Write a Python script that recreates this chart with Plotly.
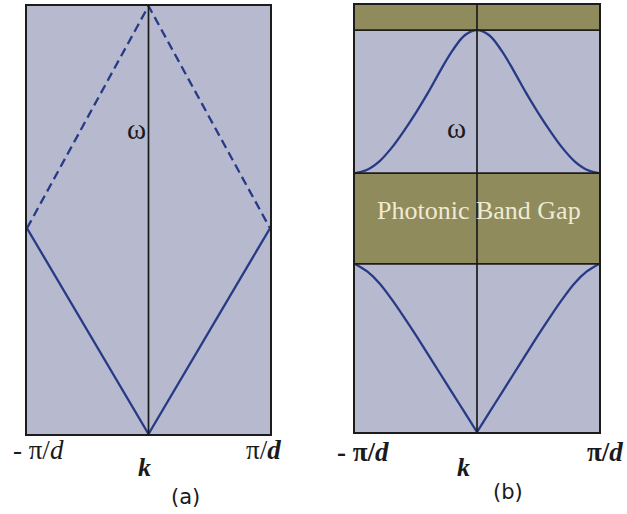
import plotly.graph_objects as go

# ---------------- data ----------------
# (a) free-photon light line folded into the first Brillouin zone (k in units of pi/d)
a_k = [-1.0, 0.0, 1.0]
a_solid_w = [1.0, 0.0, 1.0]
a_dash_w = [1.0, 2.08, 1.0]

# (b) periodic medium: two bands separated by a photonic band gap
b_up_k = [-1.0, -0.9, -0.8, -0.7, -0.6, -0.5, -0.4, -0.3, -0.2, -0.1, 0.0,
          0.1, 0.2, 0.3, 0.4, 0.5, 0.6, 0.7, 0.8, 0.9, 1.0]
b_up_w = [1.54, 1.56, 1.61, 1.69, 1.79, 1.90, 2.02, 2.15, 2.27, 2.36, 2.39,
          2.36, 2.27, 2.15, 2.02, 1.90, 1.79, 1.69, 1.61, 1.56, 1.54]
b_lo_left_k = [-1.0, -0.9, -0.8, -0.7, -0.6, -0.5, -0.4, -0.3, -0.2, -0.1, 0.0]
b_lo_left_w = [1.0, 0.955, 0.885, 0.79, 0.685, 0.575, 0.46, 0.345, 0.23, 0.115, 0.0]
b_lo_right_k = [0.0, 0.1, 0.2, 0.3, 0.4, 0.5, 0.6, 0.7, 0.8, 0.9, 1.0]
b_lo_right_w = [0.0, 0.115, 0.23, 0.345, 0.46, 0.575, 0.685, 0.79, 0.885, 0.955, 1.0]

gap = [1.0, 1.54]          # photonic band gap
top_band = [2.39, 2.54]    # next gap above the second band
a_range = [0, 2.08]
b_range = [0, 2.54]

# ---------------- styles ----------------
W, H = 627, 514
PANEL = "#b7b9cf"
OLIVE = "#8f8b5c"
CURVE = "#263a86"
FRAME = "#1c1c1c"

def px_x(p):
    return p / W

def px_y(p):
    return 1 - p / H

fig = go.Figure()
curve = dict(color=CURVE, width=2.3, shape="spline", smoothing=1.0)

# panel (a)
fig.add_trace(go.Scatter(x=a_k, y=a_solid_w, mode="lines", xaxis="x", yaxis="y",
                         line=dict(color=CURVE, width=2.3), hoverinfo="skip"))
fig.add_trace(go.Scatter(x=a_k, y=a_dash_w, mode="lines", xaxis="x", yaxis="y",
                         line=dict(color=CURVE, width=2.3, dash="9px,5px"), hoverinfo="skip"))

# panel (b)
for kk, ww in ((b_up_k, b_up_w), (b_lo_left_k, b_lo_left_w), (b_lo_right_k, b_lo_right_w)):
    fig.add_trace(go.Scatter(x=kk, y=ww, mode="lines", xaxis="x2", yaxis="y2",
                             line=curve, hoverinfo="skip"))

shapes = []
# olive bands in (b)
for lo, hi in (gap, top_band):
    shapes.append(dict(type="rect", xref="x2", yref="y2", x0=-1, x1=1, y0=lo, y1=hi,
                       fillcolor=OLIVE, line=dict(width=0), layer="below"))
    for yv in (lo, hi):
        if yv < b_range[1]:
            shapes.append(dict(type="line", xref="x2", yref="y2", x0=-1, x1=1, y0=yv, y1=yv,
                               line=dict(color=FRAME, width=1.7), layer="above"))
# k = 0 axis lines
shapes.append(dict(type="line", xref="x", yref="y", x0=0, x1=0, y0=a_range[0], y1=a_range[1],
                   line=dict(color=FRAME, width=1.7), layer="above"))
shapes.append(dict(type="line", xref="x2", yref="y2", x0=0, x1=0, y0=b_range[0], y1=b_range[1],
                   line=dict(color=FRAME, width=1.7), layer="above"))

axis_common = dict(showgrid=False, zeroline=False, showticklabels=False, ticks="",
                   showline=True, linecolor=FRAME, linewidth=2.2, mirror=True, fixedrange=True)

LABEL_FONT = dict(family="Liberation Serif", size=27, color="#1a1a1a")
ann = []

def label(text, x, y, **font):
    f = dict(LABEL_FONT)
    f.update(font)
    ann.append(dict(text=text, xref="paper", yref="paper", x=px_x(x), y=px_y(y),
                    xanchor="center", yanchor="middle", showarrow=False, font=f))

# panel (a) labels
label("ω", 136, 129, size=29)
label("- π/<i>d</i>", 38, 450)
label("π/<b><i>d</i></b>", 263, 450)
label("<b><i>k</i></b>", 144, 467, size=26)
label("(a)", 185, 497, family="DejaVu Sans", size=21)

# panel (b) labels
label("ω", 457, 128, size=29)
label("<b>- π/<i>d</i></b>", 363, 452)
label("<b>π/<i>d</i></b>", 605, 452)
label("<b><i>k</i></b>", 463, 467, size=26)
label("(b)", 508, 492, family="DejaVu Sans", size=21)
label("Photonic Band Gap", 479, 210, size=26, color="#efead3")

fig.update_layout(
    width=W, height=H,
    margin=dict(l=0, r=0, t=0, b=0),
    paper_bgcolor="white",
    plot_bgcolor=PANEL,
    showlegend=False,
    xaxis=dict(domain=[px_x(27), px_x(270)], range=[-1, 1], anchor="y", **axis_common),
    yaxis=dict(domain=[px_y(434), px_y(6)], range=a_range, anchor="x", **axis_common),
    xaxis2=dict(domain=[px_x(355), px_x(599)], range=[-1, 1], anchor="y2", **axis_common),
    yaxis2=dict(domain=[px_y(432), px_y(5)], range=b_range, anchor="x2", **axis_common),
    shapes=shapes,
    annotations=ann,
)

fig.write_html("out.html")
